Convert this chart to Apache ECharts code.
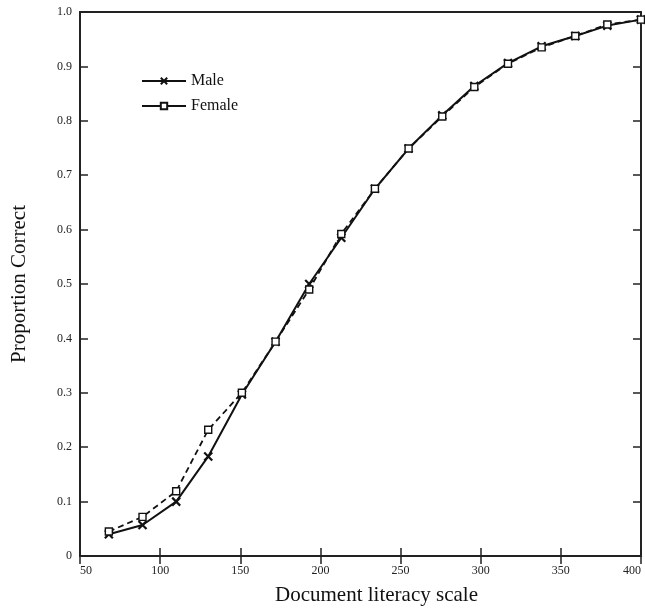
<!DOCTYPE html>
<html>
<head>
<meta charset="utf-8">
<script src="https://cdn.jsdelivr.net/npm/echarts@6/dist/echarts.min.js"></script>
<style>html,body{margin:0;padding:0;background:#fff}#c{width:645px;height:614px}</style>
</head>
<body>
<div id="c"></div>
<script>
var scaleX = [68, 89, 110, 130, 151, 172, 193, 213, 234, 255, 276, 296, 317, 338, 359, 379, 400];
var maleY = [0.040, 0.057, 0.100, 0.183, 0.297, 0.394, 0.500, 0.585, 0.675, 0.749, 0.810, 0.864, 0.906, 0.937, 0.956, 0.975, 0.986];
var femaleY = [0.045, 0.072, 0.119, 0.232, 0.300, 0.394, 0.490, 0.592, 0.675, 0.749, 0.808, 0.862, 0.905, 0.935, 0.956, 0.977, 0.986];
var xTicks = [50, 100, 150, 200, 250, 300, 350, 400];
var yTicks = [0, 0.1, 0.2, 0.3, 0.4, 0.5, 0.6, 0.7, 0.8, 0.9, 1.0];

function pairs(xs, ys) { return xs.map(function (x, i) { return [x, ys[i]]; }); }

var font = '"Liberation Serif", "DejaVu Serif", serif';
var chart = echarts.init(document.getElementById('c'), null, {renderer: 'canvas'});
var lineCol = '#111';
var xMark = 'path://M0,0L10,10M10,0L0,10';

chart.setOption({
  animation: false,
  backgroundColor: '#fff',
  grid: {left: 80, right: 4, top: 12, bottom: 58, show: true, borderColor: '#222', borderWidth: 1.8,
         outerBoundsMode: 'none', containLabel: false},
  legend: {
    orient: 'vertical', left: 136, top: 68, itemWidth: 44, itemHeight: 8, itemGap: 9,
    textStyle: {fontFamily: font, fontSize: 16, color: '#111'},
    data: [{name: 'Male'}, {name: 'Female', lineStyle: {type: 'solid'}}]
  },
  xAxis: [{
    type: 'value', min: xTicks[0], max: xTicks[xTicks.length - 1], interval: 50,
    name: 'Document literacy scale', nameLocation: 'middle', nameGap: 29,
    nameTextStyle: {fontFamily: font, fontSize: 21, color: '#111', padding: [0, 0, 0, 32]},
    axisLine: {show: true, lineStyle: {color: '#222', width: 1.8}},
    axisTick: {show: true, inside: true, length: 8, lineStyle: {color: '#222', width: 1.5}},
    axisLabel: {fontFamily: font, fontSize: 12, color: '#222', margin: 9,
      alignMinLabel: 'left', alignMaxLabel: 'right'},
    splitLine: {show: false}
  }, {
    type: 'value', position: 'top', min: 50, max: 400, interval: 50,
    axisLine: {show: true, lineStyle: {color: '#222', width: 1.8}},
    axisTick: {show: true, inside: true, length: 8, lineStyle: {color: '#222', width: 1.5}},
    axisLabel: {show: false}, splitLine: {show: false}
  }],
  yAxis: [{
    type: 'value', min: yTicks[0], max: yTicks[yTicks.length - 1], interval: 0.1,
    name: 'Proportion Correct', nameLocation: 'middle', nameGap: 50,
    nameTextStyle: {fontFamily: font, fontSize: 21, color: '#111'},
    axisLine: {show: true, lineStyle: {color: '#222', width: 1.8}},
    axisTick: {show: true, inside: true, length: 8, lineStyle: {color: '#222', width: 1.5}},
    axisLabel: {fontFamily: font, fontSize: 12, color: '#222', margin: 8,
      formatter: function (v) { return v === 0 ? '0' : v.toFixed(1); }},
    splitLine: {show: false}
  }, {
    type: 'value', position: 'right', min: 0, max: 1, interval: 0.1,
    axisLine: {show: true, lineStyle: {color: '#222', width: 1.8}},
    axisTick: {show: true, inside: true, length: 8, lineStyle: {color: '#222', width: 1.5}},
    axisLabel: {show: false}, splitLine: {show: false}
  }],
  series: [{
    name: 'Male', type: 'line', xAxisIndex: 0, yAxisIndex: 0,
    data: pairs(scaleX, maleY),
    symbol: xMark, symbolSize: 8,
    lineStyle: {color: lineCol, width: 2, type: 'solid'},
    itemStyle: {color: lineCol, borderColor: lineCol, borderWidth: 2.2}
  }, {
    name: 'Female', type: 'line', xAxisIndex: 0, yAxisIndex: 0,
    data: pairs(scaleX, femaleY),
    symbol: 'rect', symbolSize: 7,
    lineStyle: {color: lineCol, width: 1.8, type: [6, 4]},
    itemStyle: {color: '#fff', borderColor: lineCol, borderWidth: 1.4}
  }]
});
</script>
</body>
</html>
